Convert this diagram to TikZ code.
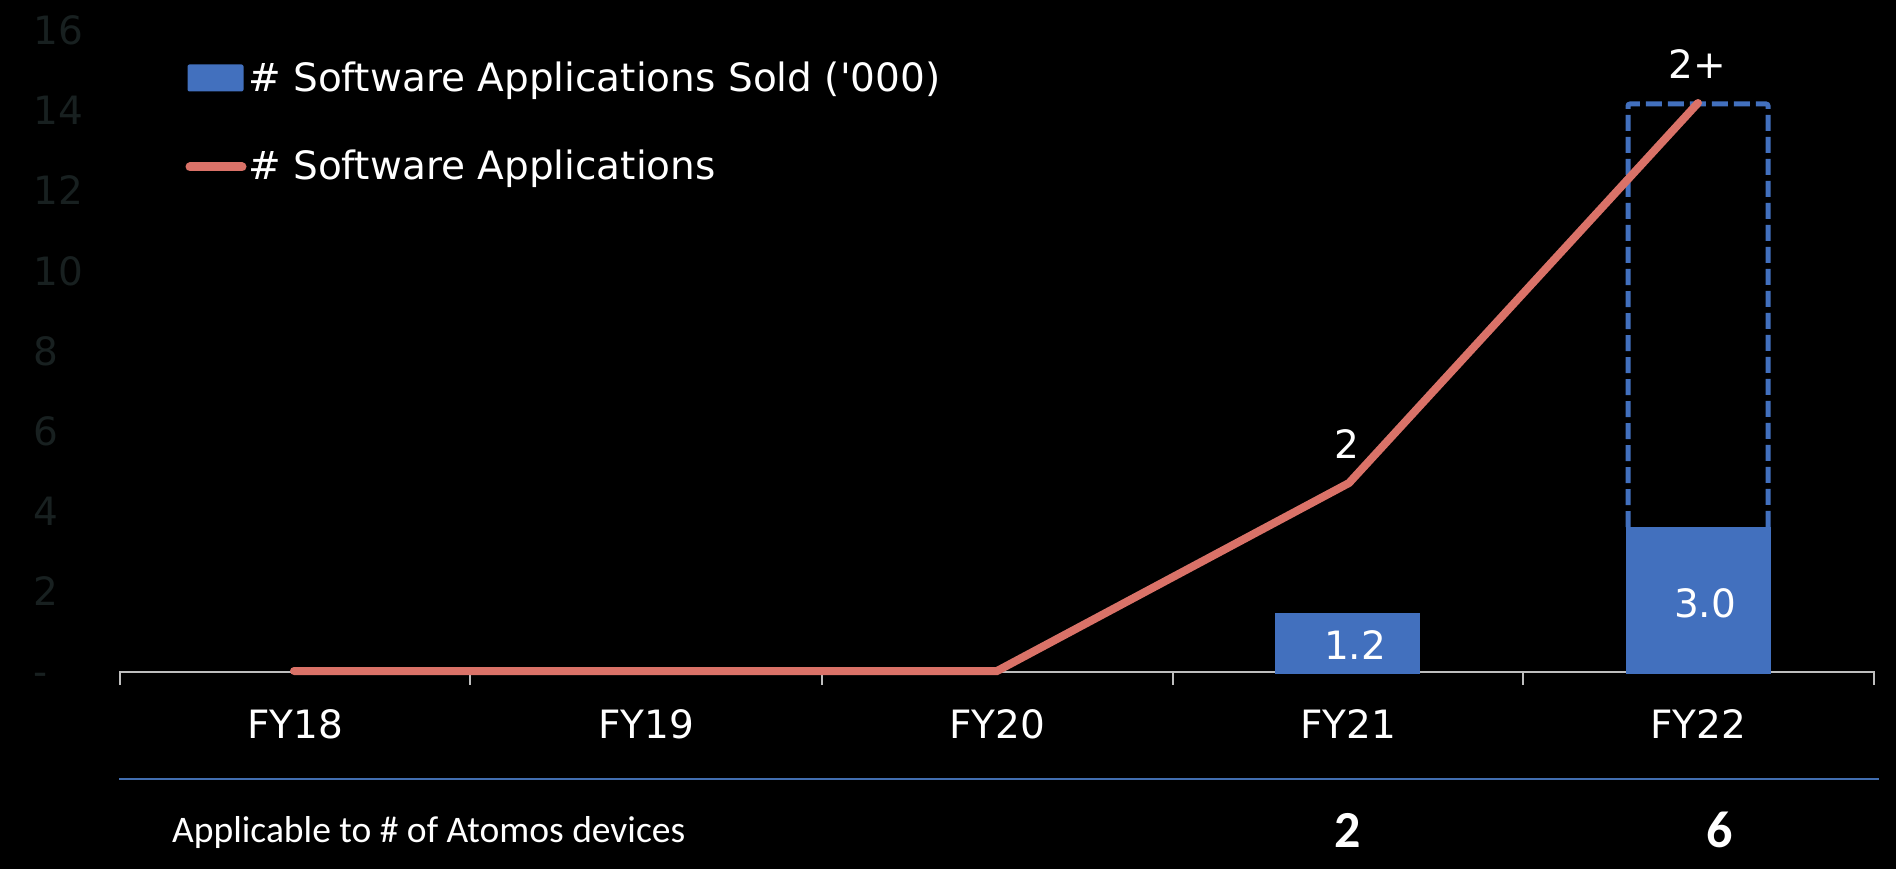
\documentclass[tikz,border=0pt]{standalone}
\usepackage{fontspec}
\setmainfont{DejaVu Sans}
\newfontfamily\carlito{Carlito}
\definecolor{barblue}{RGB}{66,112,190}
\definecolor{salmon}{RGB}{218,114,104}
\definecolor{axisgray}{RGB}{190,190,190}
\definecolor{ticklbl}{RGB}{24,32,32}
\definecolor{sepblue}{RGB}{66,110,176}
\begin{document}
\begin{tikzpicture}[x=1pt,y=-1pt,
  lbl/.style={text=white,inner sep=0pt,anchor=base,font=\fontsize{39}{44}\selectfont},
  ylbl/.style={text=ticklbl,inner sep=0pt,anchor=base west,font=\fontsize{39}{44}\selectfont},
  barbox/.style={fill=barblue,draw=none,inner sep=0pt,anchor=south west},
  axisline/.style={axisgray,line width=2pt},
  dataline/.style={salmon,line width=8pt,line cap=round},
  dashbox/.style={barblue,line width=5pt,dash pattern=on 16pt off 6pt,rounded corners=2pt},
  bottomtxt/.style={text=white,inner sep=0pt,font=\carlito\fontsize{37.5}{42}\selectfont},
  bottomnum/.style={text=white,inner sep=0pt,anchor=base,font=\carlito\bfseries\fontsize{52}{56}\selectfont}]
\fill[black] (0,0) rectangle (1896,869);
\useasboundingbox (0,0) rectangle (1896,869);

% y-axis labels (nearly invisible)
\foreach \v/\t in {0/-,1/2,2/4,3/6,4/8,5/10,6/12,7/14,8/16}{
  \node[ylbl] (ylab\v) at (33,{673-80*\v+12}) {\t};
}

% axis with ticks
\coordinate (ax0) at (120,672);
\coordinate (ax5) at (1874,672);
\draw[axisline] (120,685) -- (ax0) -- (ax5) -- (1874,685);
\foreach \x in {470,822,1173,1523}{
  \draw[axisline] (\x,672) -- (\x,685);
}

% dashed outline for FY22
\coordinate (dbl) at (1628,527);
\coordinate (dtl) at (1628,104);
\coordinate (dtr) at (1768,104);
\coordinate (dbr) at (1768,527);
\draw[dashbox] (dbl) -- (dtl) -- (dtr) -- (dbr);

% bars
\node[barbox,minimum width=145pt,minimum height=61pt] (bar21) at (1275,674) {};
\node[barbox,minimum width=145pt,minimum height=147pt] (bar22) at (1626,674) {};

% line series
\coordinate (p18) at (294,671);
\coordinate (p19) at (645,671);
\coordinate (p20) at (997,671);
\coordinate (p21) at (1349,483);
\coordinate (p22) at (1698,103);
\draw[dataline] (p18) -- (p19) -- (p20) -- (p21) -- (p22);

% data labels
\node[lbl] (l21) at (1347,458) {2};
\node[lbl] (l22) at (1697,79) {2+};
\node[lbl] (b21) at (1355,659) {1.2};
\node[lbl] (b22) at (1705,617) {3.0};

% category labels
\node[lbl] (fy18) at (295,738) {FY18};
\node[lbl] (fy19) at (646,738) {FY19};
\node[lbl] (fy20) at (997,738) {FY20};
\node[lbl] (fy21) at (1348,738) {FY21};
\node[lbl] (fy22) at (1698,738) {FY22};

% legend
\node[fill=barblue,inner sep=0pt,minimum width=56pt,minimum height=27pt,rounded corners=2pt] (legsq) at (215.5,78) {};
\node[lbl,anchor=base west] (legt1) at (248,92) {\# Software Applications Sold (\textquotesingle000)};
\coordinate (legl1) at (190,167);
\coordinate (legl2) at (242,167);
\draw[dataline,line width=9pt] (legl1) -- (legl2);
\node[lbl,anchor=base west] (legt2) at (248,180) {\# Software Applications};

% separator
\coordinate (sepL) at (119,779);
\coordinate (sepR) at (1879,779);
\draw[sepblue,line width=2pt] (sepL) -- (sepR);

% bottom row
\node[bottomtxt,anchor=base west] (appl) at (172,842) {Applicable to \# of Atomos devices};
\node[bottomnum] (d21) at (1348,847) {2};
\node[bottomnum] (d22) at (1719.5,847) {6};
\end{tikzpicture}
\end{document}
